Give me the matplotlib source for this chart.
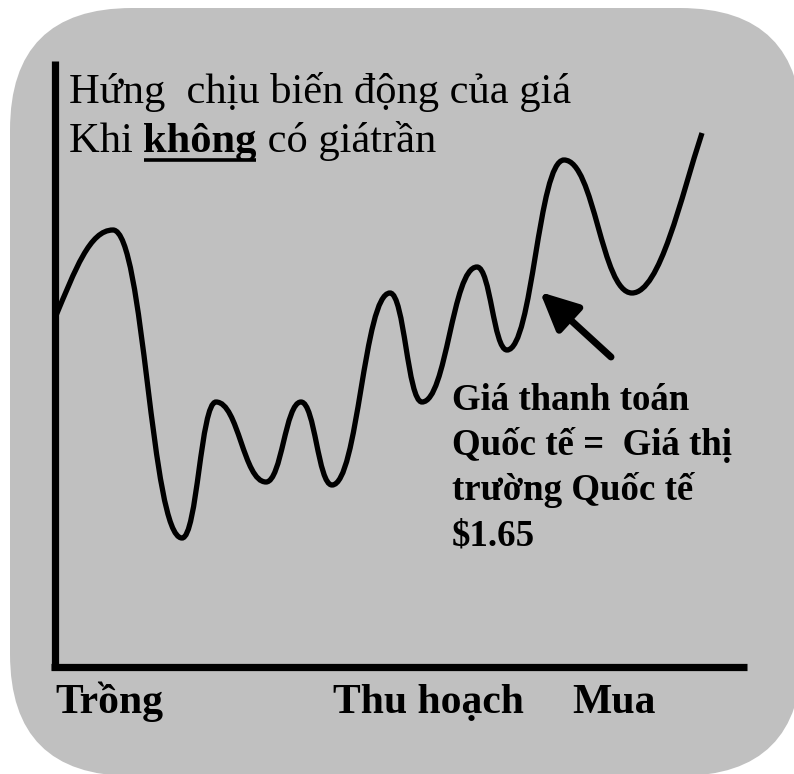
import matplotlib
matplotlib.use("Agg")
import matplotlib.pyplot as plt
from matplotlib.patches import FancyBboxPatch, PathPatch
from matplotlib.path import Path

plt.rcParams['font.family'] = ['Liberation Serif', 'DejaVu Serif']

# price curve: turning points (pixel units, y down)
knot_x = [55, 113, 182, 216, 266, 301, 332, 390, 422, 477, 507, 564, 632, 702]
knot_y = [318, 230, 538, 402, 482, 402, 485, 293, 402, 267, 350, 160, 293, 133]

title_1 = "Hứng  chịu biến động của giá"
title_2 = ["Khi ", "không", " có giátrần"]
note_lines = ["Giá thanh toán", "Quốc tế =  Giá thị", "trường Quốc tế", "$1.65"]
stage_labels = ["Trồng", "Thu hoạch", "Mua"]
stage_x = [55, 333, 572]

W, H = 794, 774
fig = plt.figure(figsize=(W / 100, H / 100), dpi=100)
ax = fig.add_axes([0, 0, 1, 1])
ax.set_xlim(0, W)
ax.set_ylim(H, 0)
ax.axis('off')

# gray rounded panel
panel = FancyBboxPatch((10, 8), 792, 768, boxstyle="round,pad=0,rounding_size=122",
                       fc='#c0c0c0', ec='none', mutation_aspect=1)
ax.add_patch(panel)

# axes lines
ax.plot([54.5, 54.5], [61, 670], color='black', lw=5.2, solid_capstyle='butt')
ax.plot([51, 747], [667, 667], color='black', lw=5.2, solid_capstyle='butt')

# smooth curve with flat tangents at the turning points
verts = [(knot_x[0], knot_y[0])]
codes = [Path.MOVETO]
for i in range(1, len(knot_x)):
    x0, y0 = knot_x[i - 1], knot_y[i - 1]
    x1, y1 = knot_x[i], knot_y[i]
    dx = x1 - x0
    if i == 1:
        c1 = (x0 + 0.35 * dx, y0 - 0.55 * (y0 - y1))
        c2 = (x1 - 0.4 * dx, y1)
    elif i == len(knot_x) - 1:
        c1 = (x0 + 0.4 * dx, y0)
        c2 = (x1 - 0.3 * dx, y1 + 0.4 * (y0 - y1))
    else:
        c1 = (x0 + 0.45 * dx, y0)
        c2 = (x1 - 0.45 * dx, y1)
    verts += [c1, c2, (x1, y1)]
    codes += [Path.CURVE4] * 3
ax.add_patch(PathPatch(Path(verts, codes), fc='none', ec='black', lw=3.8, capstyle='butt'))

# title
ax.text(69, 103, title_1, fontsize=30.6, va='baseline', ha='left')
fig.canvas.draw()
r = fig.canvas.get_renderer()
inv = ax.transData.inverted()
x = 69
for j, piece in enumerate(title_2):
    t = ax.text(x, 152, piece, fontsize=30.6, va='baseline', ha='left',
                fontweight='bold' if j == 1 else 'normal')
    bb = t.get_window_extent(renderer=r)
    x0 = inv.transform((bb.x0, 0))[0]
    x1 = inv.transform((bb.x1, 0))[0]
    if j == 1:
        ax.plot([x0 + 1, x1 - 1], [160, 160], color='black', lw=2.6, solid_capstyle='butt')
    x = x1

# arrow
ax.annotate("", xy=(540, 292), xytext=(611, 357),
            arrowprops=dict(arrowstyle="-|>,head_length=2.3,head_width=1.1",
                            lw=5, color='black', shrinkA=0, shrinkB=0))

# note
for k, line in enumerate(note_lines):
    ax.text(452, 410 + 45 * k, line, fontsize=26.6, fontweight='bold', va='baseline', ha='left')

# stage labels
for lab, sx in zip(stage_labels, stage_x):
    ax.text(sx, 713, lab, fontsize=30, fontweight='bold', va='baseline', ha='left')

fig.savefig("out.png", dpi=100, facecolor='white')
